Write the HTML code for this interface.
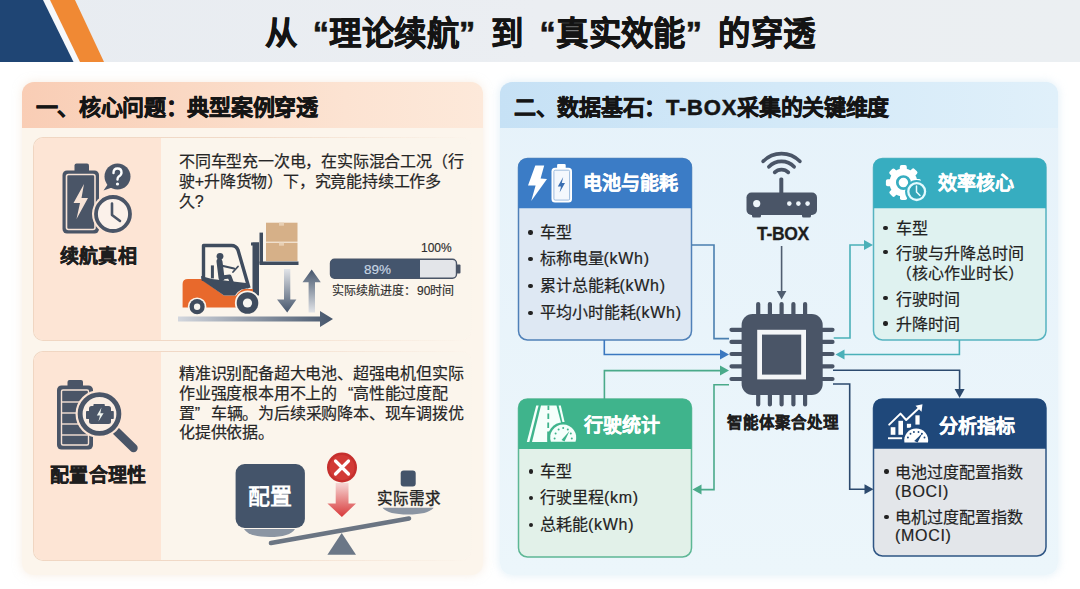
<!DOCTYPE html>
<html lang="zh-CN">
<head>
<meta charset="utf-8">
<style>
*{margin:0;padding:0;box-sizing:border-box}
html,body{width:1080px;height:589px;overflow:hidden;background:#fff;font-family:"Liberation Sans",sans-serif;color:#222}
.a{position:absolute}
.q{display:inline-block;width:1em}.ql{text-align:right}.qr{text-align:left}
#hdr{left:0;top:0;width:1080px;height:62px;background:linear-gradient(90deg,#e8ecf1,#ebeef2 50%,#ebeff2)}
#title{left:0;top:13px;width:1080px;text-align:center;font-size:32.4px;letter-spacing:0.4px;font-weight:bold;line-height:42px;color:#141414;-webkit-text-stroke:0.6px #141414}
#lp{left:22px;top:82px;width:461px;height:493px;border-radius:12px;background:#fcf5ec;box-shadow:0 0 10px rgba(240,220,200,.5);overflow:hidden}
#lph{left:0;top:0;width:461px;height:46px;background:linear-gradient(90deg,#f9cdb5 0%,#fad8c3 35%,#fce3d2 70%,#fde9da 100%)}
.ph{font-size:22px;letter-spacing:-0.3px;font-weight:bold;-webkit-text-stroke:0.5px #151515;line-height:46px;color:#151515;white-space:nowrap}
.card{left:33px;width:439px;border:1px solid transparent;border-radius:10px;background:linear-gradient(#fbf5ec,#fbf5ec) padding-box,linear-gradient(90deg,#f0d6c2 0%,#f1dac8 45%,rgba(246,230,216,0) 100%) border-box;overflow:hidden}
.cl{left:0;top:0;width:127px;height:100%;background:#fde5d5}
.lbl{font-size:19px;letter-spacing:0.35px;font-weight:bold;color:#1e1e1e;-webkit-text-stroke:0.4px #1e1e1e;white-space:nowrap;line-height:22px}
.tx{font-size:16px;letter-spacing:-0.2px;line-height:20px;color:#262626;-webkit-text-stroke:0.2px #262626;white-space:nowrap}
#rp{left:500px;top:82px;width:558px;height:493px;border-radius:12px;background:linear-gradient(180deg,#e6f2fa,#ecf6fb);box-shadow:0 0 10px rgba(200,225,240,.6);overflow:hidden}
#rph{left:0;top:0;width:558px;height:46px;background:linear-gradient(90deg,#c6e1f5 0%,#d3e9f8 50%,#e0f0fa 100%)}
.bt{font-size:19px;font-weight:bold;color:#fff;-webkit-text-stroke:0.3px #fff;white-space:nowrap;line-height:24px}
.li{font-size:16px;color:#222;-webkit-text-stroke:0.2px #222;white-space:nowrap;line-height:20px}
.b{position:absolute;width:4.4px;height:4.4px;border-radius:2.2px;background:#222;margin:-0.2px 0 0 -0.2px}
.lt{letter-spacing:0.7px}
.sm{font-size:12px;color:#2e2e2e;-webkit-text-stroke:0.15px #2e2e2e;white-space:nowrap;line-height:14px}
</style>
</head>
<body>
<!-- HEADER -->
<div id="hdr" class="a"></div>
<svg class="a" style="left:0;top:0" width="120" height="62" viewBox="0 0 120 62">
  <polygon points="42,0 52,0 82,62 73.5,62" fill="#f6f8fb"/>
  <polygon points="0,0 43,0 73.5,62 0,62" fill="#1f4574"/>
  <polygon points="50,0 75,0 104,62 80,62" fill="#f08934"/>
</svg>
<div id="title" class="a">从<span class="q ql">“</span>理论续航<span class="q qr">”</span>到<span class="q ql">“</span>真实效能<span class="q qr">”</span>的穿透</div>

<!-- LEFT PANEL BG -->
<div id="lp" class="a"><div id="lph" class="a"></div></div>
<div class="a ph" style="left:35.5px;top:84.5px">一、核心问题：典型案例穿透</div>
<div class="a card" style="top:137px;height:204px"><div class="a cl"></div></div>
<div class="a card" style="top:351px;height:210px"><div class="a cl"></div></div>

<!-- RIGHT PANEL BG -->
<div id="rp" class="a"><div id="rph" class="a"></div></div>
<div class="a ph" style="left:514px;top:84.5px">二、数据基石：<span style="letter-spacing:0.8px">T-BOX</span>采集的关键维度</div>

<!-- GRAPHICS -->
<svg class="a" style="left:0;top:0" width="1080" height="589" viewBox="0 0 1080 589">
<defs>
  <linearGradient id="gH" x1="0" x2="1" y1="0" y2="0"><stop offset="0" stop-color="#d3d7de"/><stop offset="1" stop-color="#46566c"/></linearGradient>
  <linearGradient id="gD" x1="0" x2="0" y1="0" y2="1"><stop offset="0" stop-color="#e2e4e8"/><stop offset="1" stop-color="#46566c"/></linearGradient>
  <linearGradient id="gU" x1="0" x2="0" y1="0" y2="1"><stop offset="0" stop-color="#46566c"/><stop offset="1" stop-color="#e2e4e8"/></linearGradient>
  <linearGradient id="gR" x1="0" x2="0" y1="0" y2="1"><stop offset="0" stop-color="#f6d6d4"/><stop offset="1" stop-color="#d8393a"/></linearGradient>
  <marker id="mB" viewBox="0 0 10 10" refX="9" refY="5" markerWidth="7" markerHeight="7" orient="auto" markerUnits="userSpaceOnUse"><path d="M0,0 L10,5 L0,10 z" fill="#3b78c0"/></marker>
</defs>

<!-- ===== Card 1 icon ===== -->
<g fill="#4a5567">
  <rect x="74.5" y="163.5" width="14.5" height="9" rx="2"/>
  <rect x="62.5" y="170.5" width="36.5" height="63" rx="4.5"/>
</g>
<rect x="66.5" y="174.5" width="28.5" height="55" rx="2" fill="none" stroke="#f7e3d6" stroke-width="1.6"/>
<path d="M84,184 L73.5,203 L80,203 L76.5,219 L88,198 L81.5,198 Z" fill="#f7e3d6"/>
<circle cx="113" cy="214" r="21" fill="#fde5d5"/>
<circle cx="113" cy="214" r="17" fill="#fbf1ea" stroke="#4a5567" stroke-width="3.8"/>
<path d="M112,203.5 V215 L120,221" fill="none" stroke="#4a5567" stroke-width="2.6" stroke-linecap="round" stroke-linejoin="round"/>
<circle cx="117.5" cy="176.5" r="13" fill="#4a5567"/>
<path d="M108,184 L103.5,190.5 L112,187.5 Z" fill="#4a5567"/>
<path d="M113.5,173 Q113.5,168.5 117.5,168.5 Q121.5,168.5 121.5,172.5 Q121.5,175 118.8,176.5 Q117.5,177.5 117.5,179.5" fill="none" stroke="#fff" stroke-width="2.4" stroke-linecap="round"/>
<circle cx="117.5" cy="184" r="1.6" fill="#fff"/>

<!-- ===== Forklift ===== -->
<!-- ground arrow -->
<path d="M178,316.5 H320 V311 L333,319 L320,327 V321.5 H178 Z" fill="url(#gH)"/>
<!-- down arrow -->
<path d="M284,269 H290.3 V299.6 H296.4 L287.2,312.4 L277,299.6 H284 Z" fill="url(#gD)"/>
<!-- up arrow -->
<path d="M311.7,269.6 L320.8,282.3 H315 V312.4 H308.6 V282.3 H302.5 Z" fill="url(#gU)"/>
<!-- boxes -->
<rect x="266" y="222.7" width="31.5" height="19" fill="#d6b088"/>
<rect x="266" y="242.7" width="31.5" height="18.3" fill="#d6b088"/>
<rect x="279" y="222.7" width="5" height="3" fill="#e8cfb3"/>
<rect x="279" y="242.7" width="5" height="3" fill="#e8cfb3"/>
<!-- mast & forks -->
<rect x="252.5" y="242.5" width="6.5" height="53" fill="#3f4c5e"/>
<rect x="251" y="242.5" width="8" height="3" fill="#3f4c5e"/>
<rect x="259.5" y="232.6" width="3.5" height="31" fill="#3f4c5e"/>
<rect x="259.5" y="261.5" width="39" height="3.5" fill="#3f4c5e"/>
<!-- body orange -->
<path d="M182.6,284 Q182.6,279 188,279 H201 L224,295.6 H236 Q240,290 244,289 H253 V307.5 H182.6 Z" fill="#e8692c"/>
<!-- dark lower cab -->
<path d="M201,276 L201.5,280 L224,295.5 H235 Q238,291 241.5,289.5 L249,288 L246,283 L212,279 Z" fill="#3f4c5e"/>
<!-- cab frame -->
<path d="M203.5,281 V245.5 H231.5 Q236,245.5 238,250 L249,288" fill="none" stroke="#3f4c5e" stroke-width="3.4" stroke-linejoin="round"/>
<!-- seat & driver -->
<rect x="210.9" y="265.4" width="3" height="13" fill="#3f4c5e"/>
<circle cx="220" cy="256.3" r="3.4" fill="#3f4c5e"/>
<path d="M219.5,261.5 L221.5,278" fill="none" stroke="#3f4c5e" stroke-width="6" stroke-linecap="round"/>
<path d="M221.5,277.5 L229.5,276.5 L233.5,287" fill="none" stroke="#3f4c5e" stroke-width="4" stroke-linecap="round" stroke-linejoin="round"/>
<path d="M221,265.5 L234,268.5" fill="none" stroke="#3f4c5e" stroke-width="2.2" stroke-linecap="round"/>
<path d="M233,272 L238,266.5" fill="none" stroke="#3f4c5e" stroke-width="1.8" stroke-linecap="round"/>
<!-- wheels -->
<circle cx="197.1" cy="306.7" r="9.3" fill="#fbf5ec"/>
<circle cx="197.1" cy="306.7" r="7.6" fill="#3f4c5e"/>
<circle cx="197.1" cy="306.7" r="3.2" fill="#f6f4ef"/>
<circle cx="247.5" cy="303" r="12.6" fill="#fbf5ec"/>
<circle cx="247.5" cy="303" r="10.8" fill="#3f4c5e"/>
<circle cx="247.5" cy="303" r="4.6" fill="#f6f4ef"/>

<!-- progress bar -->
<rect x="330.5" y="259.2" width="126" height="19" rx="4" fill="#e3e5e9" stroke="#4a5567" stroke-width="1.4"/>
<path d="M334.5,259.2 H420 V278.2 H334.5 Q330.5,278.2 330.5,274.2 V263.2 Q330.5,259.2 334.5,259.2 Z" fill="#44556d"/>
<rect x="456.5" y="264.5" width="4" height="9" rx="1" fill="#4a5567"/>

<!-- ===== Card 2 icon ===== -->
<g fill="#4a5567">
  <rect x="67.5" y="380" width="15.5" height="8" rx="2"/>
  <rect x="57" y="385.5" width="36" height="64" rx="4.5"/>
</g>
<rect x="61.5" y="390" width="27" height="55" rx="1.5" fill="none" stroke="#f7e3d6" stroke-width="1.4"/>
<g stroke="#f7e3d6" stroke-width="1.4">
  <line x1="62" y1="402" x2="88" y2="402"/><line x1="62" y1="413" x2="88" y2="413"/><line x1="62" y1="424" x2="88" y2="424"/><line x1="62" y1="435" x2="88" y2="435"/>
</g>
<line x1="115" y1="430" x2="133.5" y2="448" stroke="#4a5567" stroke-width="8.4" stroke-linecap="round"/>
<circle cx="99.5" cy="414" r="24" fill="#fde5d5"/>
<circle cx="99.5" cy="414" r="19.35" fill="#fbeee4" stroke="#4a5567" stroke-width="4.9"/>
<!-- engine -->
<g fill="#4a5567">
  <rect x="89" y="406" width="22" height="18" rx="2.5"/>
  <rect x="93.4" y="404" width="11.4" height="3" rx="0.8"/>
  <rect x="86" y="411" width="3.5" height="8" rx="0.8"/>
  <rect x="110.5" y="411" width="3.3" height="8" rx="0.8"/>
</g>
<path d="M101.5,407.5 L96.8,415.5 L100,415.5 L98.4,421.5 L103.6,413.2 L100.3,413.2 Z" fill="#eef3ee"/>

<!-- ===== Scale ===== -->
<polygon points="341.7,533 356,554.7 327.4,554.7" fill="#6b7787"/>
<path d="M244,529 H295 Q290,537 269.5,537 Q249,537 244,529 Z" fill="#8b95a3"/>
<path d="M382.5,507.8 H433.7 Q428,514.5 408,514.5 Q388,514.5 382.5,507.8 Z" fill="#8b95a3"/>
<line x1="271" y1="543" x2="409" y2="518.5" stroke="#6b7583" stroke-width="4.6" stroke-linecap="round"/>
<rect x="235.6" y="464" width="69.3" height="64" rx="9" fill="#44546a"/>
<rect x="400.7" y="470.5" width="15" height="16" rx="3" fill="#44546a"/>
<path d="M335.7,483 H348.5 V503.5 H356 L341.9,517 L327.4,503.5 H335.7 Z" fill="url(#gR)"/>
<circle cx="342" cy="467.5" r="15" fill="#c52f2d"/>
<circle cx="342" cy="467.5" r="12.5" fill="#d23a36"/>
<path d="M335.5,461 L348.5,474 M348.5,461 L335.5,474" stroke="#fff" stroke-width="3.2" stroke-linecap="round"/>

<!-- ===== Right panel boxes ===== -->
<!-- box1 -->
<rect x="518.5" y="158.5" width="173" height="181.5" rx="9" fill="#dee8f3" stroke="#4f80b8" stroke-width="1.5"/>
<path d="M518.5,208.3 V167.5 Q518.5,158.5 527.5,158.5 H682.5 Q691.5,158.5 691.5,167.5 V208.3 Z" fill="#3b7cc6"/>
<!-- box2 -->
<rect x="873.5" y="158.5" width="172.5" height="181.5" rx="9" fill="#dff2f0" stroke="#56b3c0" stroke-width="1.5"/>
<path d="M873.5,208.3 V167.5 Q873.5,158.5 882.5,158.5 H1037 Q1046,158.5 1046,167.5 V208.3 Z" fill="#37adc0"/>
<!-- box3 -->
<rect x="518.5" y="399" width="173" height="158" rx="9" fill="#e2f1e9" stroke="#5db795" stroke-width="1.5"/>
<path d="M518.5,449 V408 Q518.5,399 527.5,399 H682.5 Q691.5,399 691.5,408 V449 Z" fill="#3fb48c"/>
<!-- box4 -->
<rect x="873.5" y="399" width="172.5" height="157" rx="9" fill="#e3e6ea" stroke="#2e5584" stroke-width="1.5"/>
<path d="M873.5,448.7 V408 Q873.5,399 882.5,399 H1037 Q1046,399 1046,408 V448.7 Z" fill="#1f487a"/>

<!-- box header icons -->
<!-- box1: bolt + battery -->
<polygon points="535.3,165.4 544.2,165.4 540.6,178.5 547,178.9 531.2,201 535.6,185.6 528,185.6" fill="#fff"/>
<rect x="557.1" y="163.9" width="8.6" height="5" rx="1.2" fill="#fff"/>
<rect x="551.5" y="167.8" width="20.5" height="34.7" rx="3.5" fill="#fff"/>
<rect x="553.9" y="170.2" width="15.7" height="29.9" rx="1.2" fill="#f4f8fd" stroke="#93b4da" stroke-width="0.9"/>
<polygon points="563.2,177 557.8,186.5 561,186.5 559.6,192.5 565,183 561.8,183" fill="#3a6fb2"/>
<!-- box2: gear + clock -->
<g transform="translate(903.4,182.6)">
  <g fill="#fff">
    <circle r="14"/>
    <rect x="-3.6" y="-17.5" width="7" height="7" rx="1.8"/>
    <rect x="-3.6" y="-17.5" width="7" height="7" rx="1.8" transform="rotate(45)"/>
    <rect x="-3.6" y="-17.5" width="7" height="7" rx="1.8" transform="rotate(90)"/>
    <rect x="-3.6" y="-17.5" width="7" height="7" rx="1.8" transform="rotate(135)"/>
    <rect x="-3.6" y="-17.5" width="7" height="7" rx="1.8" transform="rotate(180)"/>
    <rect x="-3.6" y="-17.5" width="7" height="7" rx="1.8" transform="rotate(225)"/>
    <rect x="-3.6" y="-17.5" width="7" height="7" rx="1.8" transform="rotate(270)"/>
    <rect x="-3.6" y="-17.5" width="7" height="7" rx="1.8" transform="rotate(315)"/>
  </g>
  <circle r="6.1" fill="#fff" stroke="#37adc0" stroke-width="2.7"/>
</g>
<circle cx="916.7" cy="191.6" r="11.6" fill="#37adc0"/>
<circle cx="916.7" cy="191.6" r="8.4" fill="#34a5b7" stroke="#e4fbff" stroke-width="2.3"/>
<path d="M916.5,186 V192 L920,195.5" fill="none" stroke="#eafcff" stroke-width="1.5" stroke-linecap="round" stroke-linejoin="round"/>
<!-- box3: road + speedometer -->
<polygon points="541,405.5 556.5,405.5 566,442 532,442" fill="#f5fffb"/>
<polygon points="536.2,405.5 538.6,405.5 529.4,442 526.8,442" fill="#f5fffb"/>
<polygon points="558.6,405.5 560.8,405.5 564.6,422 562.4,422" fill="#f5fffb"/>
<g stroke="#3fb48c" stroke-width="1.8"><line x1="548.4" y1="405.5" x2="548.4" y2="410"/><line x1="548.3" y1="413.5" x2="548.3" y2="419"/><line x1="548.2" y1="422.5" x2="548.2" y2="428"/><line x1="548.1" y1="431.5" x2="548.1" y2="442"/></g>
<path d="M548.3,442 A15.5,15.5 0 1 1 578.1,442 Z" fill="#3fb48c"/>
<path d="M550.9,441.7 A13,13 0 1 1 575.5,441.7 Z" fill="#f5fffb"/>
<g fill="#3fb48c"><circle cx="554.6" cy="438.5" r="1"/><circle cx="555.6" cy="433.5" r="1"/><circle cx="558.6" cy="429.6" r="1"/><circle cx="563.2" cy="428" r="1"/><circle cx="567.8" cy="429.6" r="1"/><circle cx="570.8" cy="433.5" r="1"/><circle cx="571.8" cy="438.5" r="1"/></g>
<path d="M561.5,440 L569.5,431 L564.5,441.5 Z" fill="#3fb48c"/>
<!-- box4: chart + dial -->
<g fill="#fff">
  <rect x="888" y="437.3" width="14.2" height="1.9"/>
  <rect x="890.7" y="427.2" width="4.7" height="7.6"/>
  <rect x="898.4" y="420.8" width="4.6" height="14"/>
  <rect x="906.9" y="423.8" width="4.2" height="4"/>
  <rect x="915.4" y="415.3" width="4.2" height="9.3"/>
</g>
<path d="M889.2,424.6 L900.5,413.6 L906.2,420 L919.5,407.6" fill="none" stroke="#fff" stroke-width="2" stroke-linecap="round" stroke-linejoin="round"/>
<polygon points="922.5,404.3 921.5,411.8 915.5,405.8" fill="#fff"/>
<path d="M902.4,442.6 A14,14 0 1 1 930,442.6 Z" fill="#1f487a"/>
<path d="M904.4,442.6 A12,12 0 1 1 928,442.6 Z" fill="#fff"/>
<g fill="#1f487a"><circle cx="907.9" cy="437.5" r="0.95"/><circle cx="910.5" cy="433.8" r="0.95"/><circle cx="913.9" cy="432.0" r="0.95"/><circle cx="918.5" cy="432.0" r="0.95"/><circle cx="921.9" cy="433.8" r="0.95"/><circle cx="924.5" cy="437.5" r="0.95"/></g>
<path d="M914.2,441 L922.5,433 L917.6,442.4 Z" fill="#1f487a"/>

<!-- ===== Connectors ===== -->
<g fill="none" stroke-width="1.6">
  <path d="M691.5,245 H714 V338.6 H729" stroke="#4a7fb0"/>
  <path d="M604.3,340 V354.5 H722" stroke="#3b78c0"/>
  <path d="M604.4,399 V370.6 H722" stroke="#4aaa8a"/>
  <path d="M729,384.8 H714 V489.6 H699" stroke="#4aaa8a"/>
  <path d="M833.7,338 H850 V245 H866" stroke="#4ab0b8"/>
  <path d="M959.4,340 V354.5 H842" stroke="#4ab0b8"/>
  <path d="M833,370.3 H959.6 V391" stroke="#2c4a6e"/>
  <path d="M833,384 H849.7 V489.2 H867" stroke="#2c4a6e"/>
  <path d="M781.6,246 V293" stroke="#505d70"/>
</g>
<g>
  <path d="M729,354.5 L720,349.5 L720,359.5 Z" fill="#3b78c0"/>
  <path d="M729,370.6 L720,365.6 L720,375.6 Z" fill="#4aaa8a"/>
  <path d="M692.5,489.6 L701.5,484.6 L701.5,494.6 Z" fill="#4aaa8a"/>
  <path d="M873,245 L864,240 L864,250 Z" fill="#4ab0b8"/>
  <path d="M835.5,354.5 L844.5,349.5 L844.5,359.5 Z" fill="#4ab0b8"/>
  <path d="M959.6,398 L954.6,389 L964.6,389 Z" fill="#2c4a6e"/>
  <path d="M873.5,489.2 L864.5,484.2 L864.5,494.2 Z" fill="#2c4a6e"/>
  <path d="M781.6,299.5 L776.8,291 L786.4,291 Z" fill="#505d70"/>
</g>

<!-- ===== Router ===== -->
<g fill="none" stroke="#4a5567" stroke-width="3.7" stroke-linecap="round">
  <path d="M763.2,161.3 A25.5,25.5 0 0 1 799.8,161.3"/>
  <path d="M768.9,166.8 A17.5,17.5 0 0 1 794.1,166.8"/>
  <path d="M774.7,172.4 A9.5,9.5 0 0 1 788.3,172.4"/>
</g>
<rect x="779.3" y="177.5" width="4" height="17" rx="1.5" fill="#4a5567"/>
<rect x="746.5" y="192.5" width="70.5" height="22.5" rx="5" fill="#4a5567"/>
<rect x="752" y="213" width="9" height="4.5" rx="1.5" fill="#4a5567"/>
<rect x="802" y="213" width="9" height="4.5" rx="1.5" fill="#4a5567"/>
<circle cx="756.7" cy="203.6" r="3.6" fill="#eef5fa"/>
<circle cx="789.3" cy="203.6" r="2.3" fill="#eef5fa"/>
<circle cx="798.4" cy="203.6" r="2.3" fill="#eef5fa"/>
<circle cx="807.6" cy="203.6" r="2.3" fill="#eef5fa"/>

<!-- ===== Chip ===== -->
<g stroke="#4a5567" stroke-width="4.2" stroke-linecap="round">
  <path d="M758.2,304 V314 M769.9,304 V314 M781.6,304 V314 M793.4,304 V314 M805.1,304 V314"/>
  <path d="M758.2,395 V404.5 M769.9,395 V404.5 M781.6,395 V404.5 M793.4,395 V404.5 M805.1,395 V404.5"/>
  <path d="M731.5,329.8 H742 M731.5,341.9 H742 M731.5,354 H742 M731.5,366.3 H742 M731.5,379 H742"/>
  <path d="M822,329.8 H832.5 M822,341.9 H832.5 M822,354 H832.5 M822,366.3 H832.5 M822,379 H832.5"/>
</g>
<rect x="741.6" y="314" width="81.1" height="81" rx="11" fill="#4a5567"/>
<rect x="757.2" y="329.8" width="48.8" height="49.6" fill="#f4f6f8"/>
<rect x="762" y="334.6" width="39.2" height="40" fill="#4a5567"/>

</svg>

<!-- ===== TEXT ===== -->
<!-- card1 -->
<div class="a lbl" style="left:59.5px;top:246px">续航真相</div>
<div class="a tx" style="left:179px;top:152px">不同车型充一次电，在实际混合工况（行</div>
<div class="a tx" style="left:179px;top:172px">驶+升降货物）下，究竟能持续工作多</div>
<div class="a tx" style="left:179px;top:192px">久?</div>
<div class="a sm" style="left:421px;top:241px">100%</div>
<div class="a sm" style="left:364px;top:262.5px;color:#c8d5e3;-webkit-text-stroke:0.15px #c8d5e3;font-size:13.5px">89%</div>
<div class="a sm" style="left:332px;top:284px;font-size:12px">实际续航进度：<span style="margin-left:1px">90时间</span></div>
<!-- card2 -->
<div class="a lbl" style="left:50px;top:465px">配置合理性</div>
<div class="a tx" style="left:179px;top:364px">精准识别配备超大电池、超强电机但实际</div>
<div class="a tx" style="left:179px;top:384px">作业强度根本用不上的<span class="q ql">“</span>高性能过度配</div>
<div class="a tx" style="left:179px;top:404px">置<span class="q qr">”</span>车辆。为后续采购降本、现车调拨优</div>
<div class="a tx" style="left:179px;top:423px">化提供依据。</div>
<div class="a" style="left:248px;top:485px;font-size:22px;font-weight:bold;color:#fff;line-height:24px">配置</div>
<div class="a" style="left:377px;top:490px;font-size:15.5px;color:#222;line-height:18px;-webkit-text-stroke:0.35px #222">实际需求</div>

<!-- right -->
<div class="a" style="left:757px;top:224px;font-size:17.5px;font-weight:bold;color:#1e1e1e;line-height:20px;-webkit-text-stroke:0.3px #1e1e1e;letter-spacing:-0.3px">T-BOX</div>
<div class="a" style="left:727px;top:413px;font-size:15.5px;font-weight:bold;color:#1e1e1e;line-height:20px;-webkit-text-stroke:0.35px #1e1e1e">智能体聚合处理</div>

<div class="a bt" style="left:583px;top:171.5px">电池与能耗</div>
<div class="a bt" style="left:938px;top:171.5px">效率核心</div>
<div class="a bt" style="left:584px;top:414px">行驶统计</div>
<div class="a bt" style="left:938.5px;top:414.5px">分析指标</div>

<!-- box1 list -->
<div class="b" style="left:528.5px;top:230.5px"></div><div class="a li" style="left:539.5px;top:222.5px">车型</div>
<div class="b" style="left:528.5px;top:257px"></div><div class="a li" style="left:539.5px;top:249px">标称电量<span class="lt">(kWh)</span></div>
<div class="b" style="left:528.5px;top:284px"></div><div class="a li" style="left:539.5px;top:276px">累计总能耗<span class="lt">(kWh)</span></div>
<div class="b" style="left:528.5px;top:311px"></div><div class="a li" style="left:539.5px;top:303px">平均小时能耗<span class="lt">(kWh)</span></div>
<!-- box2 list -->
<div class="b" style="left:883.5px;top:226px"></div><div class="a li" style="left:895.5px;top:219px">车型</div>
<div class="b" style="left:883.5px;top:250px"></div><div class="a li" style="left:895.5px;top:243.5px">行驶与升降总时间</div>
<div class="a li" style="left:895.5px;top:263.5px">（核心作业时长）</div>
<div class="b" style="left:883.5px;top:296px"></div><div class="a li" style="left:895.5px;top:289.5px">行驶时间</div>
<div class="b" style="left:883.5px;top:321.5px"></div><div class="a li" style="left:895.5px;top:315px">升降时间</div>
<!-- box3 list -->
<div class="b" style="left:529px;top:469.5px"></div><div class="a li" style="left:540px;top:461.5px">车型</div>
<div class="b" style="left:529px;top:496px"></div><div class="a li" style="left:540px;top:488px">行驶里程<span class="lt">(km)</span></div>
<div class="b" style="left:529px;top:523px"></div><div class="a li" style="left:540px;top:515px">总耗能<span class="lt">(kWh)</span></div>
<!-- box4 list -->
<div class="b" style="left:884.5px;top:469.5px"></div><div class="a li" style="left:895px;top:462.5px">电池过度配置指数</div>
<div class="a li" style="left:895px;top:481.5px"><span class="lt">(BOCI)</span></div>
<div class="b" style="left:884.5px;top:515px"></div><div class="a li" style="left:895px;top:507.5px">电机过度配置指数</div>
<div class="a li" style="left:895px;top:526px"><span class="lt">(MOCI)</span></div>

</body>
</html>
